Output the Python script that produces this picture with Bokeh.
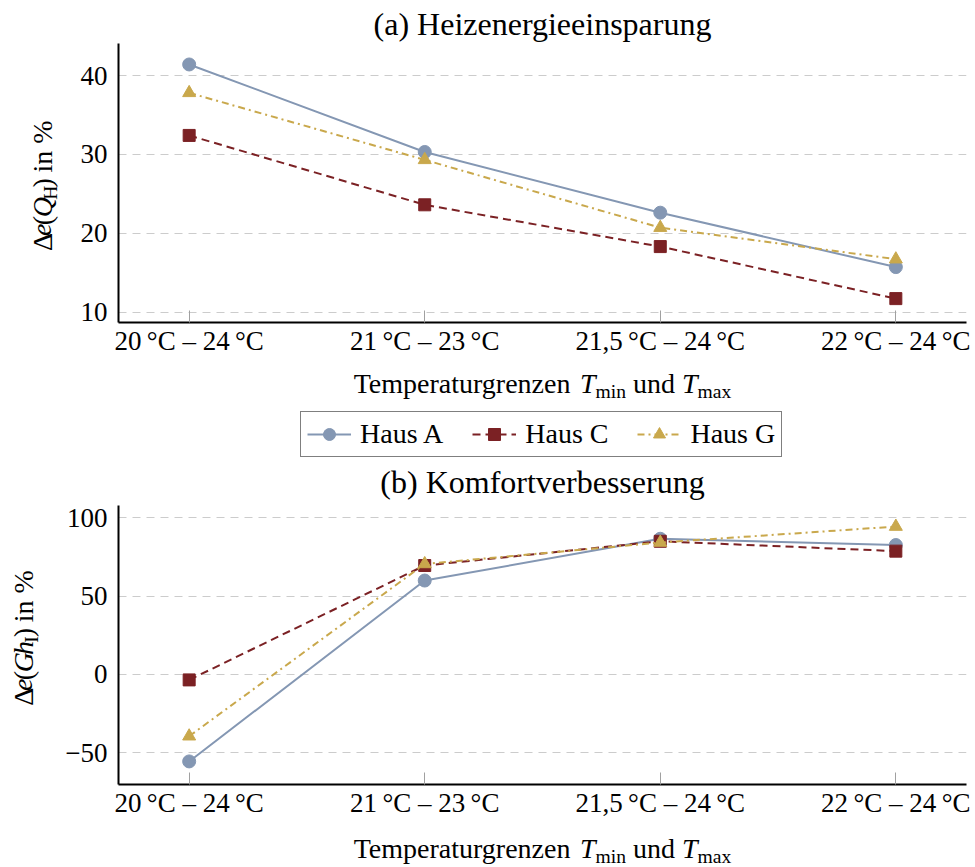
import math
from bokeh.plotting import figure
from bokeh.models import ColumnDataSource, FixedTicker, Label, Legend, LegendItem, Range1d
from bokeh.layouts import column, row
from bokeh.embed import file_html
from bokeh.resources import INLINE

# ---------------- data ----------------
categories = ["20\u2009°C – 24\u2009°C", "21\u2009°C – 23\u2009°C",
              "21,5\u2009°C – 24\u2009°C", "22\u2009°C – 24\u2009°C"]
series_names = ["Haus A", "Haus C", "Haus G"]

heat_A = [41.4, 30.3, 22.6, 15.7]
heat_C = [32.4, 23.6, 18.3, 11.7]
heat_G = [37.8, 29.3, 20.7, 16.7]

comf_A = [-55.7, 59.9, 86.6, 82.6]
comf_C = [-3.6, 69.5, 85.0, 78.7]
comf_G = [-39.6, 70.5, 84.2, 94.4]

heat_yticks = [10, 20, 30, 40]
comf_yticks = [-50, 0, 50, 100]

title_a = "(a) Heizenergieeinsparung"
title_b = "(b) Komfortverbesserung"

# ---------------- style ----------------
FONT = "Liberation Serif"
COL_A = "#8497B3"
COL_C = "#7B2124"
COL_G = "#C9A84C"
styles = [
    dict(color=COL_A, dash="solid", marker="circle", size=13),
    dict(color=COL_C, dash="8 5", marker="square", size=12),
    dict(color=COL_G, dash="7 4 2 4", marker="triangle", size=13),
]

NB = "\u00a0"
REG = {" ": .25, NB: .25, "(": .333, ")": .333, "%": .833, "Δ": .612, "a": .444,
       "d": .5, "e": .444, "g": .5, "i": .278, "m": .778, "n": .5, "p": .5,
       "r": .333, "s": .389, "t": .278, "u": .5, "x": .5, "z": .444, "H": .722,
       "I": .333, "T": .611}
ITA = {"e": .444, "Q": .722, "G": .722, "h": .5, "T": .556}

# empirical baseline corrections
BASE_H = 0.37      # fraction of piece font size
BASE_V_X = 0.37    # fraction of piece font size
BASE_V_Y = 0.95    # fraction of the label's base font size

W = 975
YLW = 60
X0, X1 = -0.30, 3.30
LABEL_SIZE = 28


def width_of(text, italic, size):
    table = ITA if italic else REG
    return sum(table.get(ch, 0.5) for ch in text) * size


def composite(p, pieces, x, y, size, vertical=False):
    widths = [width_of(t, it, size * sc) for t, it, sc, sh in pieces]
    pos = -sum(widths) / 2.0
    for (t, it, sc, sh), w in zip(pieces, widths):
        fs = size * sc
        if vertical:
            px = x + sh * size - BASE_V_X * fs
            py = y + pos - BASE_V_Y * size
            ang = math.pi / 2
        else:
            px = x + pos
            py = y - sh * size + BASE_H * fs
            ang = 0
        p.add_layout(Label(x=px, y=py, text=t, angle=ang,
                           text_font=FONT, text_font_size=f"{fs:.1f}px",
                           text_font_style="italic" if it else "normal",
                           text_align="left", text_baseline="alphabetic",
                           text_color="black"))
        pos += w


def strip(width, height):
    s = figure(width=width, height=height, x_range=Range1d(0, width),
               y_range=Range1d(0, height), output_backend="svg",
               toolbar_location=None, title=None, x_axis_location=None,
               y_axis_location=None, min_border=0, min_border_left=0,
               min_border_right=0, min_border_top=0, min_border_bottom=0)
    s.grid.visible = False
    s.outline_line_color = None
    s.background_fill_color = "white"
    s.border_fill_color = "white"
    return s


def title_label(s, text, x, y):
    s.add_layout(Label(x=x, y=y + BASE_H * 32, text=text, text_font=FONT,
                       text_font_size="32px", text_align="center",
                       text_baseline="alphabetic", text_color="black"))


XLAB = [("Temperaturgrenzen" + NB, False, 1, 0), ("T", True, 1, 0),
        ("min", False, 0.7, 0.2), (NB + "und" + NB, False, 1, 0), ("T", True, 1, 0),
        ("max", False, 0.7, 0.2)]
YLAB_A = [("Δ", False, 1, 0), ("e", True, 1, 0), ("(", False, 1, 0),
          ("Q", True, 1, 0), ("H", False, 0.7, 0.2), (")", False, 1, 0),
          (NB + "in" + NB + "%", False, 1, 0)]
YLAB_B = [("Δ", False, 1, 0), ("e", True, 1, 0), ("(", False, 1, 0),
          ("G", True, 1, 0), ("h", True, 1, 0), ("I", False, 0.7, 0.2),
          (")", False, 1, 0), (NB + "in" + NB + "%", False, 1, 0)]


def make_panel(height, top, frame_h, yr, yticks, ylabels, series):
    p = figure(width=W - YLW, height=height, x_range=Range1d(X0, X1),
               y_range=Range1d(*yr), output_backend="svg", toolbar_location=None,
               title=None, min_border_left=118 - YLW, min_border_right=9,
               min_border_top=top, min_border_bottom=height - top - frame_h)
    p.outline_line_color = None
    p.background_fill_color = "white"
    p.border_fill_color = "white"
    p.xgrid.visible = False
    p.ygrid.grid_line_color = "#cccccc"
    p.ygrid.grid_line_dash = "8 6"
    p.ygrid.grid_line_width = 1.2
    p.ygrid.ticker = FixedTicker(ticks=yticks)

    for ax in (p.xaxis, p.yaxis):
        ax.axis_line_color = "black"
        ax.axis_line_width = 2
        ax.minor_tick_line_color = None
        ax.major_label_text_font = FONT
        ax.major_label_text_font_size = "27px"
        ax.major_label_text_color = "black"

    p.xaxis.ticker = FixedTicker(ticks=list(range(len(categories))))
    p.xaxis.major_label_overrides = {i: c for i, c in enumerate(categories)}
    p.xaxis.major_tick_in = 12
    p.xaxis.major_tick_out = 0
    p.xaxis.major_tick_line_color = "#a0a0a0"
    p.xaxis.major_tick_line_width = 1
    p.xaxis.major_label_standoff = 3

    p.yaxis.ticker = FixedTicker(ticks=yticks)
    p.yaxis.major_label_overrides = {t: l for t, l in zip(yticks, ylabels)}
    p.yaxis.major_tick_in = 0
    p.yaxis.major_tick_out = 0
    p.yaxis.major_label_standoff = 11

    xs = list(range(len(categories)))
    for vals, st in zip(series, styles):
        src = ColumnDataSource(dict(x=xs, y=vals))
        p.line("x", "y", source=src, line_color=st["color"], line_width=2,
               line_dash=st["dash"])
        p.scatter("x", "y", source=src, marker=st["marker"], size=st["size"],
                  fill_color=st["color"], line_color=st["color"])
    return p


# --- title (a)                                   page 0 .. 43
t0 = strip(W, 43)
title_label(t0, title_a, 542, 8)

# --- panel (a)                                   page 43 .. 365
p1 = make_panel(322, 0, 279, (8.67, 44.06), heat_yticks,
                [str(t) for t in heat_yticks], [heat_A, heat_C, heat_G])
yl1 = strip(YLW, 322)
composite(yl1, YLAB_A, 52, 180, LABEL_SIZE, vertical=True)

# --- x label (a), legend, title (b)             page 365 .. 501
S1H = 136
s1 = strip(W, S1H)
composite(s1, XLAB, 542, S1H - 28, LABEL_SIZE)
title_label(s1, title_b, 542, 8)
s1.extra_x_ranges = {"off": Range1d(100, 101)}
items = []
for name, vals, st in zip(series_names, [heat_A, heat_C, heat_G], styles):
    src = ColumnDataSource(dict(x=list(range(len(categories))), y=vals))
    l = s1.line("x", "y", source=src, x_range_name="off", line_color=st["color"],
                line_width=2, line_dash=st["dash"])
    s = s1.scatter("x", "y", source=src, x_range_name="off", marker=st["marker"],
                   size=st["size"], fill_color=st["color"], line_color=st["color"])
    items.append(LegendItem(label=name, renderers=[l, s]))
leg = Legend(items=items, orientation="horizontal", location=(300, S1H - 92),
             border_line_color="black", border_line_width=1, padding=6,
             spacing=29, glyph_width=44, glyph_height=30, label_standoff=9,
             label_text_font=FONT, label_text_font_size="28px",
             label_text_color="black", margin=0, background_fill_alpha=1)
s1.add_layout(leg)

# --- panel (b)                                   page 501 .. 825
p2 = make_panel(324, 4, 279, (-70.45, 107.86), comf_yticks,
                [str(t).replace("-", "\u2212") for t in comf_yticks],
                [comf_A, comf_C, comf_G])
yl2 = strip(YLW, 324)
composite(yl2, YLAB_B, 33, 192, LABEL_SIZE, vertical=True)

# --- x label (b)                                 page 825 .. 867
s2 = strip(W, 42)
composite(s2, XLAB, 542, 9, LABEL_SIZE)

layout = column(t0, row(yl1, p1), s1, row(yl2, p2), s2)
open("out.html", "w").write(file_html(layout, INLINE))
